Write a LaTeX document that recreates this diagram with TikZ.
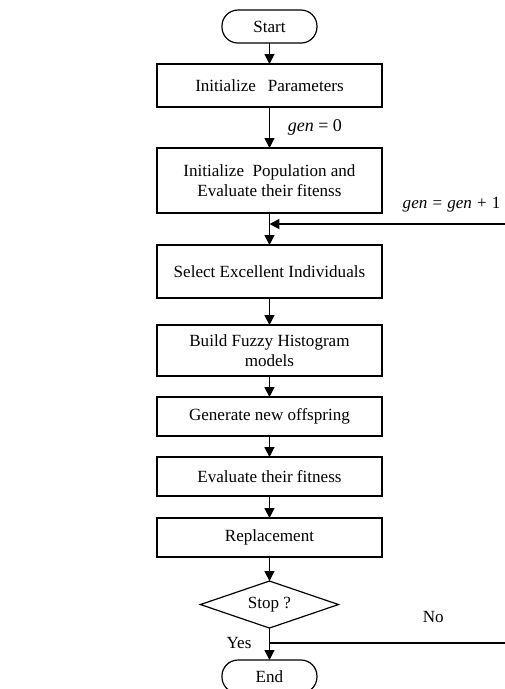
\documentclass[tikz,border=0pt]{standalone}
\usepackage{fontspec}
\setmainfont{Liberation Serif}
\usepackage{tikz}
\usetikzlibrary{shapes,arrows.meta,positioning,calc}

\begin{document}
\begin{tikzpicture}[
    node distance=16pt,
    txt/.style={font=\fontsize{12.8}{15.5}\selectfont},
    box/.style={rectangle, draw, line width=0.9pt, outer sep=0pt, minimum width=168.75pt, align=center, inner sep=2pt, txt},
    term/.style={rectangle, draw, line width=0.9pt, outer sep=0pt, rounded corners=12pt, minimum width=71.25pt, minimum height=24.75pt, inner sep=2pt, txt},
    decision/.style={diamond, draw, line width=0.9pt, outer sep=0pt, aspect=2.9, minimum width=103.5pt, minimum height=35.25pt, inner sep=0pt, txt},
    arrow/.style={-{Triangle[length=7.5pt,width=7.5pt]}, line width=0.9pt},
    lbl/.style={txt},
  ]
    % page frame
    \coordinate (nw) at (0pt,0pt);
    \coordinate (se) at (378.75pt,-516.75pt);
    \useasboundingbox (nw) rectangle (se);

    \node[term] (start) at (202.1pt,-19.9pt) {Start};
    \node[box, minimum height=32.25pt, below=15.75pt of start] (initpar) {Initialize\hspace{0.7em}Parameters};
    \node[box, minimum height=48.75pt, below=30.75pt of initpar] (initpop) {Initialize\ \ Population and\\Evaluate their fitenss};
    \node[box, minimum height=39.75pt, below=24pt of initpop] (select) {Select Excellent Individuals};
    \node[box, minimum height=38.25pt, below=20.25pt of select] (build) {Build Fuzzy Histogram\\models};
    \node[box, minimum height=29.25pt, below=15.75pt of build] (offspring) {Generate new offspring};
    \node[box, minimum height=29.25pt, below=15.75pt of offspring] (evaluate) {Evaluate their fitness};
    \node[box, minimum height=29.25pt, below=16.5pt of evaluate] (replace) {Replacement};
    \node[decision, below=18pt of replace] (stop) {Stop ?};
    \node[term, below=24pt of stop] (end) {End};

    % loop points
    \coordinate[below=8.25pt of initpop] (merge);
    \coordinate (loopIn) at (merge -| se);
    \coordinate[below=11.25pt of stop] (split);
    \coordinate (noEnd) at (split -| se);

    \draw[arrow] (start) -- (initpar);
    \draw[arrow] (initpar) -- (initpop) node[midway, right=10pt, font=\fontsize{13.5}{16}\selectfont] {\textit{gen} = 0};
    \draw[arrow] (initpop) -- (select);
    \draw[arrow, line width=1.3pt] (loopIn) -- (merge);
    \node[lbl, above left=5.5pt and 0pt of loopIn] (genInc)
      {\textit{gen}\hspace{0.3em}=\hspace{0.3em}\textit{gen}\hspace{0.3em}+\hspace{0.3em}1};
    \draw[arrow] (select) -- (build);
    \draw[arrow] (build) -- (offspring);
    \draw[arrow] (offspring) -- (evaluate);
    \draw[arrow] (evaluate) -- (replace);
    \draw[arrow] (replace) -- (stop);
    \draw[arrow] (stop) -- (end);
    \draw[line width=0.9pt] (split) -- (noEnd);
    \node[lbl, left=10pt of split] (yes) {Yes};
    \node[lbl, above left=11.7pt and 42.4pt of noEnd] (no) {No};
  \end{tikzpicture}
\end{document}
